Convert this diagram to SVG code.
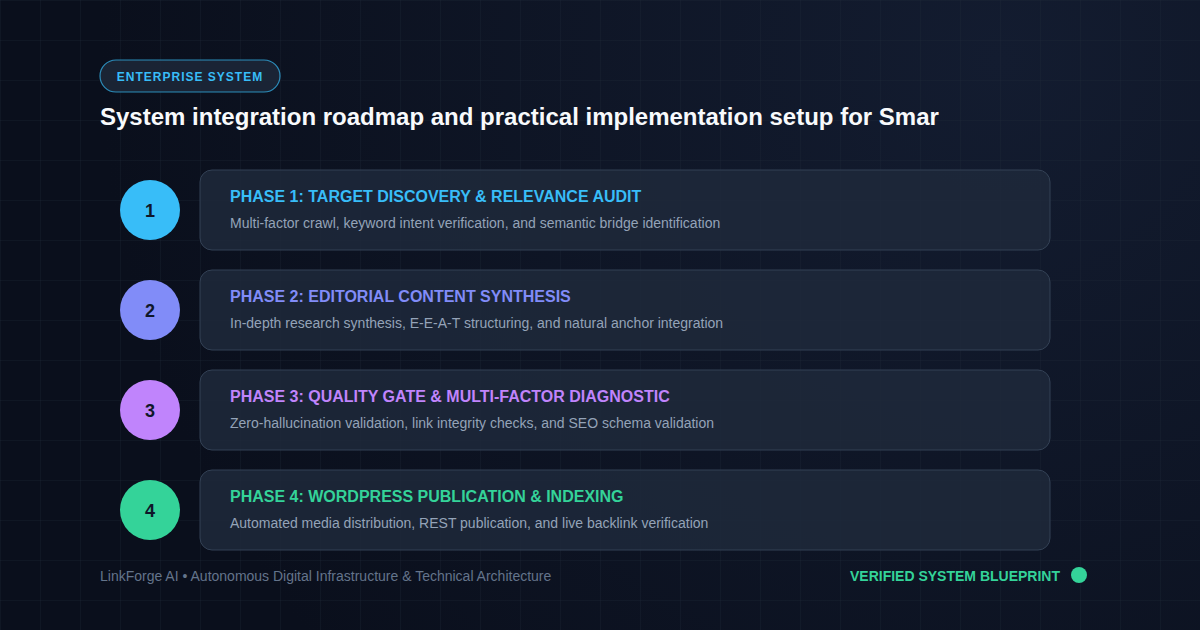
<svg xmlns="http://www.w3.org/2000/svg" width="1200" height="630" viewBox="0 0 1200 630">
  <defs>
    <radialGradient id="bgGlow" cx="1000" cy="60" r="900" gradientUnits="userSpaceOnUse">
      <stop offset="0" stop-color="#131c30"/>
      <stop offset="1" stop-color="#0a0f1c"/>
    </radialGradient>
    <pattern id="grid" width="40" height="40" patternUnits="userSpaceOnUse">
      <path d="M40 0 L0 0 0 40" fill="none" stroke="#1e293b" stroke-opacity="0.55" stroke-width="1"/>
    </pattern>
    <style>
      .card { fill: #1e293b; fill-opacity: 0.85; stroke: #334155; stroke-width: 1; }
      .num { font-family: "Liberation Sans", Arial, sans-serif; font-weight: bold; font-size: 18px; fill: #0f172a; text-anchor: middle; }
      .ptitle { font-family: "Liberation Sans", Arial, sans-serif; font-weight: bold; font-size: 16px; }
      .pdesc { font-family: "Liberation Sans", Arial, sans-serif; font-size: 14px; fill: #94a3b8; }
    </style>
  </defs>
  <rect width="1200" height="630" fill="url(#bgGlow)"/>
  <rect width="1200" height="630" fill="url(#grid)"/>

  <g id="badge">
    <rect x="100" y="60" width="180" height="32" rx="16" fill="#1e293b" fill-opacity="0.8" stroke="#38bdf8" stroke-opacity="0.7" stroke-width="1.2"/>
    <text x="190" y="81" text-anchor="middle" font-family="'Liberation Sans', Arial, sans-serif" font-weight="bold" font-size="12" letter-spacing="1" fill="#38bdf8">ENTERPRISE SYSTEM</text>
  </g>
  <g id="title">
    <text x="100" y="125" font-family="'Liberation Sans', Arial, sans-serif" font-weight="bold" font-size="24" fill="#f8fafc">System integration roadmap and practical implementation setup for Smar</text>
  </g>

  <g id="connectors"></g>

  <g id="phase1">
    <circle cx="150" cy="210" r="30" fill="#38bdf8"/>
    <text class="num" x="150" y="217">1</text>
    <rect class="card" x="200" y="170" width="850" height="80" rx="12"/>
    <text class="ptitle" x="230" y="202" fill="#38bdf8">PHASE 1: TARGET DISCOVERY &amp; RELEVANCE AUDIT</text>
    <text class="pdesc" x="230" y="228">Multi-factor crawl, keyword intent verification, and semantic bridge identification</text>
  </g>
  <g id="phase2">
    <circle cx="150" cy="310" r="30" fill="#818cf8"/>
    <text class="num" x="150" y="317">2</text>
    <rect class="card" x="200" y="270" width="850" height="80" rx="12"/>
    <text class="ptitle" x="230" y="302" fill="#818cf8">PHASE 2: EDITORIAL CONTENT SYNTHESIS</text>
    <text class="pdesc" x="230" y="328">In-depth research synthesis, E-E-A-T structuring, and natural anchor integration</text>
  </g>
  <g id="phase3">
    <circle cx="150" cy="410" r="30" fill="#c084fc"/>
    <text class="num" x="150" y="417">3</text>
    <rect class="card" x="200" y="370" width="850" height="80" rx="12"/>
    <text class="ptitle" x="230" y="402" fill="#c084fc">PHASE 3: QUALITY GATE &amp; MULTI-FACTOR DIAGNOSTIC</text>
    <text class="pdesc" x="230" y="428">Zero-hallucination validation, link integrity checks, and SEO schema validation</text>
  </g>
  <g id="phase4">
    <circle cx="150" cy="510" r="30" fill="#34d399"/>
    <text class="num" x="150" y="517">4</text>
    <rect class="card" x="200" y="470" width="850" height="80" rx="12"/>
    <text class="ptitle" x="230" y="502" fill="#34d399">PHASE 4: WORDPRESS PUBLICATION &amp; INDEXING</text>
    <text class="pdesc" x="230" y="528">Automated media distribution, REST publication, and live backlink verification</text>
  </g>

  <g id="footer">
    <text x="100" y="581" font-family="'Liberation Sans', Arial, sans-serif" font-size="14" fill="#64748b">LinkForge AI • Autonomous Digital Infrastructure &amp; Technical Architecture</text>
    <text x="1060" y="581" text-anchor="end" font-family="'Liberation Sans', Arial, sans-serif" font-weight="bold" font-size="14" fill="#34d399">VERIFIED SYSTEM BLUEPRINT</text>
    <circle cx="1079" cy="575" r="8" fill="#34d399"/>
  </g>
</svg>
